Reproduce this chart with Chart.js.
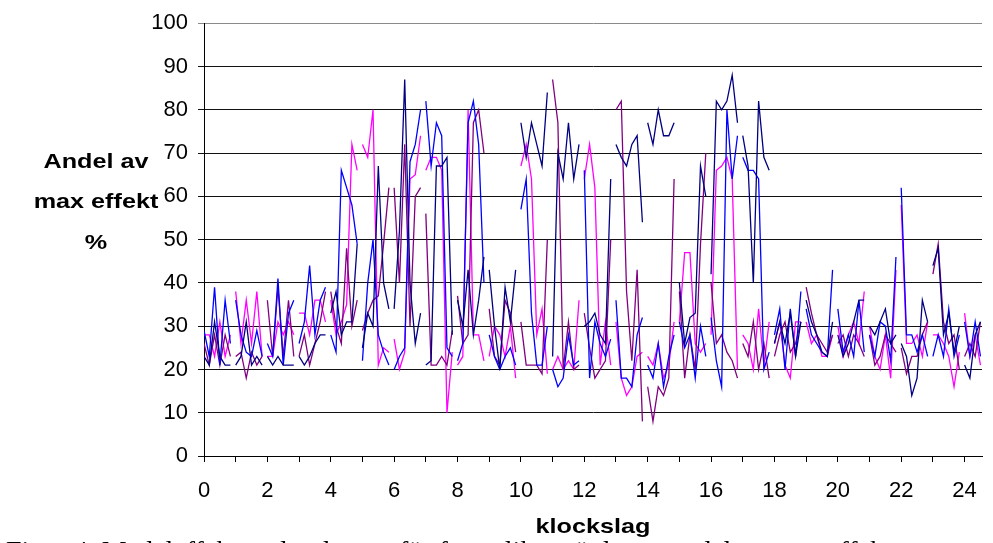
<!DOCTYPE html>
<html>
<head>
<meta charset="utf-8">
<script src="https://cdn.jsdelivr.net/npm/chart.js@4.4.1/dist/chart.umd.min.js"></script>
<style>
  html, body { margin: 0; padding: 0; background: #fff; }
  #wrap { width: 993px; height: 543px; position: relative; overflow: hidden; }
</style>
</head>
<body>
<div id="wrap"><canvas id="effekt" width="993" height="543"></canvas></div>
<script>
// samples inside each hour (minutes), one gap before the next hour
const hourMinutes = [0, 10, 20, 30, 40, 50];
const yTicks = [0, 10, 20, 30, 40, 50, 60, 70, 80, 90, 100];

// andel av max effekt (%), 6 values per hour, hour 0 .. 24
const navy = [
  23, 21, 31, 23, 21, 21,   // 0
  21, 23, 31, 21, 23, 21,   // 1
  23, 21, 23, 21, 21, 21,   // 2
  23, 21, 23, 26, 28, 28,   // 3
  33, 38, 28, 31, 31, 49,   // 4
  25, 33, 30, 67, 40, 34,   // 5
  34, 52, 87, 40, 26, 33,   // 6
  21, 22, 67, 67, 69, 28,   // 7
  36, 30, 43, 28, 36, 46,   // 8
  43, 30, 20, 39, 31, 43,   // 9
  77, 69, 77, 72, 67, 84,   // 10
  23, 70, 64, 77, 64, 72,   // 11
  30, 31, 33, 28, 26, 64,   // 12
  72, 69, 67, 72, 74, 54,   // 13
  77, 72, 80, 74, 74, 77,   // 14
  40, 26, 32, 33, 67, 60,   // 15
  42, 82, 80, 82, 88, 77,   // 16
  74, 67, 40, 82, 69, 66,   // 17
  26, 31, 26, 33, 23, 31,   // 18
  36, 31, 28, 24, 23, 31,   // 19
  28, 23, 26, 31, 36, 36,   // 20
  30, 28, 31, 34, 26, 28,   // 21
  26, 23, 14, 18, 36, 31,   // 22
  44, 48, 28, 33, 24, 30,   // 23
  21, 18, 28, 31            // 24
];
const blue = [
  29, 23, 39, 21, 36, 26,
  36, 28, 24, 23, 29, 23,
  26, 23, 41, 21, 33, 36,
  26, 31, 44, 28, 36, 39,
  28, 24, 66, 62, 58, 49,
  22, 40, 50, 28, 24, 21,
  20, 23, 25, 68, 72, 80,
  82, 67, 77, 74, 25, 23,
  22, 26, 77, 82, 72, 40,
  28, 23, 20, 23, 25, 21,
  57, 64, 33, 21, 21, 30,
  20, 16, 18, 28, 21, 22,
  66, 18, 31, 26, 23, 27,
  36, 18, 18, 16, 28, 32,
  21, 18, 26, 16, 23, 28,
  31, 25, 28, 18, 30, 23,
  32, 22, 16, 80, 64, 74,
  69, 66, 66, 64, 20, 24,
  28, 34, 20, 34, 23, 38,
  34, 28, 26, 24, 23, 43,
  34, 24, 28, 23, 36, 24,
  28, 23, 31, 30, 22, 46,
  62, 28, 28, 24, 28, 23,
  23, 28, 23, 34, 23, 28,
  31, 23, 31, 23
];
const purple = [
  26, 21, 28, 21, 28, 23,
  23, 24, 18, 24, 21, 23,
  36, 23, 39, 23, 36, 23,
  23, 28, 21, 26, 31, 38,
  38, 30, 26, 48, 30, 36,
  29, 33, 36, 37, 49, 62,
  62, 40, 72, 30, 60, 62,
  56, 21, 21, 23, 21, 29,
  37, 26, 28, 77, 80, 70,
  34, 23, 21, 36, 33, 24,
  31, 21, 21, 21, 19, 50,
  87, 77, 20, 31, 20, 21,
  33, 25, 18, 20, 22, 50,
  80, 82, 38, 22, 43, 8,
  16, 8, 16, 14, 18, 64,
  38, 18, 28, 20, 49, 70,
  40, 26, 28, 24, 22, 18,
  26, 23, 31, 20, 26, 18,
  23, 28, 31, 24, 26, 31,
  39, 33, 28, 26, 24, 28,
  26, 28, 23, 28, 26, 23,
  28, 21, 23, 28, 26, 24,
  25, 19, 23, 23, 28, 31,
  42, 49, 31, 26, 28, 20,
  23, 26, 23, 31
];
const magenta = [
  28, 28, 23, 31, 23, 28,
  38, 26, 36, 26, 38, 23,
  23, 23, 31, 28, 31, 28,
  33, 33, 28, 36, 36, 31,
  36, 28, 31, 35, 72, 66,
  72, 69, 80, 21, 25, 24,
  27, 20, 24, 64, 65, 74,
  66, 69, 69, 66, 10, 24,
  21, 23, 80, 28, 28, 22,
  23, 30, 28, 23, 30, 18,
  67, 72, 64, 28, 34, 19,
  20, 23, 20, 22, 20, 36,
  64, 72, 62, 21, 31, 21,
  31, 18, 14, 16, 23, 24,
  23, 21, 26, 18, 21, 31,
  31, 47, 47, 26, 24, 26,
  28, 66, 67, 69, 64, 20,
  28, 26, 20, 34, 21, 31,
  26, 31, 21, 18, 31, 31,
  31, 26, 28, 23, 23, 28,
  30, 23, 28, 31, 26, 38,
  30, 23, 20, 28, 18, 43,
  58, 26, 26, 28, 23, 31,
  28, 28, 26, 23, 16, 24,
  33, 23, 28, 21
];

// turn the hourly blocks into x/y points, a null ends each hour
function toPoints(vals) {
  const pts = [];
  vals.forEach((v, i) => {
    const h = Math.floor(i / hourMinutes.length);
    const m = hourMinutes[i % hourMinutes.length];
    pts.push({ x: h + m / 60, y: v });
    if (i % hourMinutes.length === hourMinutes.length - 1) pts.push({ x: h + 55 / 60, y: null });
  });
  return pts;
}

function line(label, vals, color) {
  return {
    label: label,
    data: toPoints(vals),
    borderColor: color,
    borderWidth: 1.3,
    pointRadius: 0,
    tension: 0,
    spanGaps: false,
    fill: false
  };
}

// titles and the (cut off) figure caption
const titles = {
  id: "titles",
  afterDraw(chart) {
    const c = chart.ctx;
    c.save();
    c.fillStyle = "#000";
    c.textAlign = "center";
    c.textBaseline = "middle";
    c.font = "bold 21px 'Liberation Sans', Arial, sans-serif";
    const yt = ["Andel av", "max effekt", "%"];
    yt.forEach((t, i) => {
      c.save();
      c.translate(96, 162 + i * 40.5);
      c.scale(1.2, 1);
      c.fillText(t, 0, 0);
      c.restore();
    });
    const area = chart.chartArea;
    c.save();
    c.translate((area.left + area.right) / 2, 527);
    c.scale(1.2, 1);
    c.fillText("klockslag", 0, 0);
    c.restore();
    c.textAlign = "left";
    c.textBaseline = "alphabetic";
    c.font = "28px 'Liberation Serif', 'Times New Roman', serif";
    c.fillText("Figur 4. Medeleffekt under dygnet för fyra olika mätdagar, andel av max effekt", 6, 560);
    c.restore();
  }
};

new Chart(document.getElementById("effekt"), {
  type: "line",
  data: {
    datasets: [
      line("Dag 1", navy, "#000080"),
      line("Dag 2", blue, "#0000FF"),
      line("Dag 3", purple, "#800080"),
      line("Dag 4", magenta, "#FF00FF")
    ]
  },
  options: {
    responsive: false,
    animation: false,
    devicePixelRatio: 1,
    layout: { padding: { left: 0, top: 21, right: 7, bottom: 0 } },
    plugins: { legend: { display: false }, tooltip: { enabled: false } },
    scales: {
      x: {
        type: "linear",
        min: 0,
        max: 24.55,
        afterFit: (s) => { s.height = 87; },
        grid: { drawOnChartArea: false, drawTicks: true, tickLength: 6, color: "#000" },
        border: { color: "#000", width: 1 },
        ticks: {
          stepSize: 1,
          includeBounds: false,
          autoSkip: false,
          maxRotation: 0,
          padding: 16,
          color: "#000",
          font: { family: "'Liberation Sans', Arial, sans-serif", size: 22 },
          callback: (v) => (v % 2 === 0 ? String(v) : "")
        }
      },
      y: {
        min: 0,
        max: 100,
        afterFit: (s) => { s.width = 204; },
        afterBuildTicks: (s) => { s.ticks = yTicks.map((v) => ({ value: v })); },
        grid: {
          tickLength: 6,
          color: (ctx) => (ctx.tick && ctx.tick.value === 100 ? "#8a8a8a" : "#111"),
          lineWidth: 1
        },
        border: { color: "#000", width: 1 },
        ticks: {
          padding: 10,
          color: "#000",
          font: { family: "'Liberation Sans', Arial, sans-serif", size: 22 }
        }
      }
    }
  },
  plugins: [titles]
});
</script>
</body>
</html>
